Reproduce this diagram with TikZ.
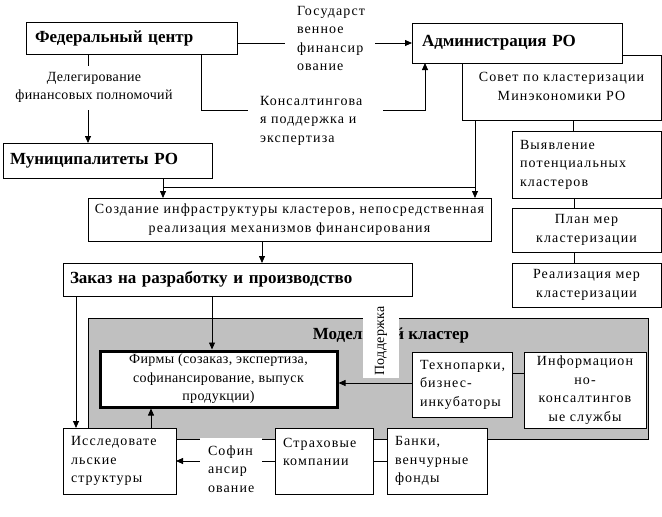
\documentclass[tikz,border=0pt]{standalone}
\usepackage{fontspec}
\setmainfont{Liberation Serif}
\newfontfamily\rls[LetterSpace=8]{Liberation Serif}
\newfontfamily\rlt[LetterSpace=2.5]{Liberation Serif}
\usetikzlibrary{arrows.meta}
\newcommand\rsz{\rls\fontsize{14}{18.5}\selectfont}
\newcommand\rszt{\rlt\fontsize{14}{18.5}\selectfont}
\newcommand\bsz{\rmfamily\fontsize{17}{20}\selectfont\bfseries}
\begin{document}
\begin{tikzpicture}[x=1pt,y=-1pt,
  bx/.style={draw, fill=white, line width=0.8pt, inner sep=0pt, outer sep=0pt, font=\rsz},
  bl/.style={bx, font=\bsz},
  lbl/.style={fill=white, inner sep=0pt, font=\rsz},
  ln/.style={line width=0.8pt},
  arr/.style={line width=0.8pt, -{Triangle[length=7pt,width=6pt]}}]
\useasboundingbox (0,0) rectangle (662,517);
% model cluster background
\node[draw, fill={rgb,255:red,192;green,192;blue,192}, line width=0.8pt, minimum width=560pt, minimum height=121pt, inner sep=0pt] (gray) at (368,378.5) {};
\node[font=\bsz, inner sep=0pt] (mtitle) at (391,335) {Модельный кластер};
\node[fill=white, rotate=90, minimum width=80pt, minimum height=36pt, inner sep=0pt, font=\rszt] (podd) at (381,338) {\hspace{-6pt}Поддержка};
% top boxes
\node[bx, minimum width=199pt, minimum height=65pt] (sov) at (561.5,87.5) {\begin{tabular}{@{}c@{}}\rule{0pt}{10pt}Совет по кластеризации\\Минэкономики РО\end{tabular}};
\node[bl, minimum width=211pt, minimum height=32pt, text width=193pt, align=left] (fed) at (131.5,38) {Федеральный центр};
\node[bl, minimum width=210pt, minimum height=40pt, text width=190pt, align=left] (adm) at (517,43) {Администрация РО};
\node[bx, minimum width=149pt, minimum height=67pt, text width=133pt, align=left] (vyy) at (586.5,164.5) {Выявление\\потенциальных\\кластеров};
\node[bx, minimum width=149pt, minimum height=44pt, align=center] (plan) at (586.5,230) {План мер\\кластеризации};
\node[bx, minimum width=149pt, minimum height=44pt, align=center] (real) at (586.5,285) {Реализация мер\\кластеризации};
\node[bl, minimum width=209pt, minimum height=35pt, text width=195pt, align=left] (mun) at (107.5,160.5) {Муниципалитеты РО};
\node[bx, minimum width=403pt, minimum height=43pt, align=center] (soz) at (289.5,219.5) {Создание инфраструктуры кластеров, непосредственная\\реализация механизмов финансирования};
\node[bl, minimum width=349pt, minimum height=33pt, text width=335pt, align=left] (zak) at (237.5,279.5) {Заказ на разработку и производство};
% cluster contents
\node[bx, font=\rszt, line width=3pt, minimum width=237pt, minimum height=56pt, align=center] (fir) at (218.5,379) {Фирмы (созаказ, экспертиза,\\софинансирование, выпуск\\продукции)};
\node[bx, minimum width=100pt, minimum height=65pt, text width=84pt, align=left] (tech) at (462,384.5) {Технопарки,\\бизнес-\\инкубаторы};
\node[bx, minimum width=122pt, minimum height=76pt, align=center] (inf) at (585,390) {Информацион\\но-\\консалтингов\\ые службы};
% bottom
\node[bx, minimum width=113pt, minimum height=66pt, text width=97pt, align=left] (iss) at (119.5,461) {Исследовате\\льские\\структуры};
\node[bx, minimum width=98pt, minimum height=66pt, text width=82pt, align=left] (str) at (324,461) {Страховые\\компании\\\mbox{}};
\node[bx, minimum width=100pt, minimum height=66pt, text width=84pt, align=left] (bank) at (437,461) {Банки,\\венчурные\\фонды};
% connectors
\draw[arr] (fed.east |- adm.west) -- (adm.west);
\node[lbl, minimum width=90pt, minimum height=70pt, text width=66pt, align=left] (gos) at (330,38.5) {Государст\\венное\\финансир\\ование};
\draw[arr] ([xshift=62pt]fed.south west) -- ([xshift=85pt]mun.north west);
\node[lbl, font=\rszt, minimum height=44pt, align=center] (deleg) at (94,87.5) {Делегирование\\финансовых полномочий};
\draw[arr] ([xshift=175pt]fed.south west) -- ++(0,56) -| ([xshift=13pt]adm.south west);
\node[lbl, minimum width=135pt, minimum height=54pt, text width=111pt, align=left] (kons) at (315.5,120.5) {Консалтингова\\я поддержка и\\экспертиза};
\draw[arr] ([xshift=13pt]sov.south west) -- ([xshift=13pt]sov.south west |- soz.north);
\draw[arr] ([xshift=160pt]mun.south west) -- ([xshift=160pt]mun.south west |- soz.north);
\coordinate (j1) at ([xshift=160pt,yshift=-9pt]mun.south west);
\coordinate (j2) at ([xshift=13pt]sov.south west |- j1);
\draw[ln] (j1) -- (j2);
\draw[ln] ([xshift=61pt]vyy.north west) -- ([xshift=61pt]vyy.north west |- sov.south);
\draw[ln] ([xshift=62pt]vyy.south west) -- ([xshift=62pt]plan.north west);
\draw[ln] ([xshift=62pt]plan.south west) -- ([xshift=62pt]real.north west);
\draw[arr] ([xshift=174pt]soz.south west) -- ([xshift=174pt]soz.south west |- zak.north);
\draw[arr] ([xshift=149pt]zak.south west) -- ([xshift=149pt,yshift=1.5pt]zak.south west |- fir.north);
\draw[arr] ([xshift=13pt]zak.south west) -- ([xshift=13pt]zak.south west |- iss.north);
\draw[arr] ([xshift=88pt]iss.north west) -- ([xshift=88pt,yshift=-1.5pt]iss.north west |- fir.south);
\draw[arr] ([yshift=1.5pt]tech.west) -- ([xshift=1.5pt,yshift=1.5pt]tech.west -| fir.east);
\draw[ln] ([yshift=-21pt]tech.north east) -- ([yshift=-21pt]tech.north east -| inf.west);
\draw[arr] (str.west) -- (str.west -| iss.east);
\draw[ln] (bank.west) -- (bank.west -| str.east);
\node[lbl, minimum width=62pt, minimum height=62pt, text width=46pt, align=left] (sofin) at (231,469) {Софин\\ансир\\ование};
\end{tikzpicture}
\end{document}
